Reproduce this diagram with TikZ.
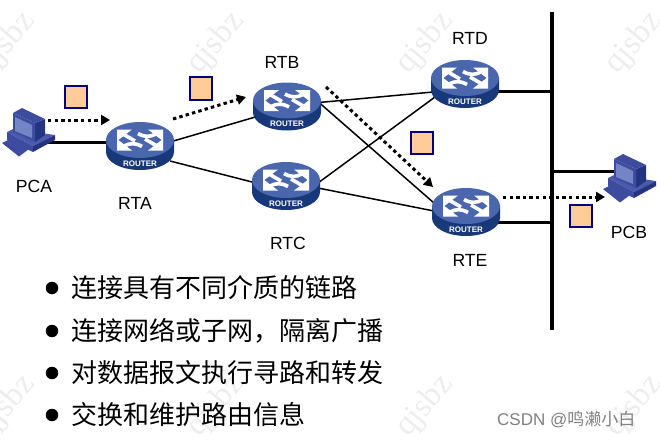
\documentclass[tikz,border=0pt]{standalone}
\usepackage{fontspec}
\setmainfont{Liberation Sans}
\newfontfamily\cjkfont{Noto Sans CJK SC}
\newfontfamily\wmfont{Liberation Serif}
\usetikzlibrary{arrows.meta}
\definecolor{rtop}{HTML}{4A66AC}
\definecolor{rside}{HTML}{17397A}
\definecolor{pcdark}{HTML}{26347F}
\definecolor{pcmid}{HTML}{3D4C9E}
\definecolor{pclight}{HTML}{4A5AAE}
\definecolor{pcscreen}{HTML}{7485C6}
\definecolor{pkt}{HTML}{FFCC99}
\definecolor{pktb}{HTML}{000080}
\tikzset{
  routerbox/.style={minimum width=68pt,minimum height=48pt,inner sep=0pt,outer sep=0pt},
  pcbox/.style={minimum width=50pt,minimum height=48pt,inner sep=0pt,outer sep=0pt},
  rlink/.style={line width=1.5pt,black},
  tlink/.style={line width=3pt,black},
  bus/.style={line width=3.5pt,black},
  flow/.style={line width=3pt,black,dash pattern=on 3.4pt off 3.2pt,-{Triangle[length=9pt,width=10pt]}},
  packet/.style={draw=pktb,fill=pkt,line width=1.8pt,minimum size=22.5pt,inner sep=0pt},
  lbl/.style={font=\fontsize{17.6}{20}\selectfont,inner sep=0pt},
  bulletdot/.style={circle,fill=black,minimum size=12.5pt,inner sep=0pt},
  itemtext/.style={font=\cjkfont\fontsize{26}{30}\selectfont,anchor=west,inner sep=0pt},
  wm/.style={font=\wmfont\fontsize{33}{36}\selectfont,text=black!7,rotate=50,inner sep=0pt},
  csdn/.style={font=\fontsize{17}{20}\selectfont,text=black!50,anchor=west,inner sep=0pt},
  arrw/.style={fill=white,draw=none},
  arrl/.style={draw=white,line width=3.6pt}
}
\newcommand{\routerart}[1]{%
  \begin{scope}[shift={(#1.center)}]
    \fill[rside] (-34,-6) -- (-34,6) arc[start angle=180,end angle=360,x radius=34,y radius=-18] -- (34,-6) -- cycle;
    \fill[rtop] (0,-6) ellipse[x radius=34,y radius=18];
    \begin{scope}[shift={(0,-6)}]
      \foreach \r in {0,180}{
        \begin{scope}[rotate=\r]
          \fill[arrw] (-23,-10.5) -- (-8,-10.5) -- (-23,1) -- cycle;
          \draw[arrl] (-17,-6) -- (-5,1);
          \fill[arrw] (23,-10.5) -- (8,-10.5) -- (23,1) -- cycle;
          \draw[arrl] (16,-6) .. controls (10,-3) and (5,-2.5) .. (-2,-6.5);
        \end{scope}
      }
    \end{scope}
    \node[font=\bfseries\fontsize{8}{8}\selectfont,text=white,inner sep=0pt] (#1-t) at (0,17.5) {ROUTER};
  \end{scope}}
\newcommand{\pcart}[1]{%
  \begin{scope}[shift={(#1.center)}]
    \fill[pclight] (-20,0) -- (-14,-3) -- (28,3) -- (6,14) -- cycle;
    \fill[pcmid] (-20,0) -- (6,14) -- (6,20) -- (-20,8) -- cycle;
    \fill[pcdark] (6,14) -- (28,3) -- (28,8) -- (6,20) -- cycle;
    \fill[pcmid] (-25,11) -- (-17,7) -- (2,17) -- (-8,24.5) -- cycle;
    \fill[pcdark] (8,-9) -- (18,-13) -- (18,3) -- (8,10) -- cycle;
    \fill[pcmid] (-14,-19) -- (-5,-24) -- (18,-13) -- (8,-9) -- cycle;
    \fill[pcmid] (-14,-19) -- (8,-9) -- (8,10) -- (-14,0) -- cycle;
    \fill[pcscreen] (-12,-15) -- (5,-7) -- (5,6) -- (-12,-1) -- cycle;
  \end{scope}}
\begin{document}
\begin{tikzpicture}[x=1pt,y=-1pt]
\useasboundingbox (0,0) rectangle (660,439);
\foreach \wx/\wy [count=\i] in {7/43,216/43,425/43,634/43,7/406,216/406,425/406,634/406}
  \node[wm] (wm\i) at (\wx,\wy) {qjsbz};
\node[routerbox] (rta) at (140,146) {};
\node[routerbox] (rtb) at (287,106.5) {};
\node[routerbox] (rtc) at (286,186) {};
\node[routerbox] (rtd) at (465,84) {};
\node[routerbox] (rte) at (466,212) {};
\node[pcbox] (pca) at (27,132) {};
\node[pcbox] (pcb) at (628,178) {};
\coordinate (bustop) at (552,12);
\coordinate (busbot) at (552,330);
\coordinate (busd) at (552,91);
\coordinate (buse) at (552,222);
\coordinate (busb) at (552,171);
\draw[bus] (bustop) -- (busbot);
\draw[tlink] ([shift={(20,10)}]pca.center) -- ([shift={(-25,-4)}]rta.center);
\draw[tlink] ([shift={(25,7)}]rtd.center) -- (busd);
\draw[tlink] ([shift={(25,10)}]rte.center) -- (buse);
\draw[tlink] (busb) -- ([shift={(-10,-7)}]pcb.center);
\draw[rlink] ([shift={(-4,-4)}]rta.east) -- ([shift={(4,10)}]rtb.west);
\draw[rlink] ([shift={(-4,15)}]rta.east) -- ([shift={(4,-3)}]rtc.west);
\draw[rlink] ([shift={(-2,-4)}]rtb.east) -- ([shift={(2,8)}]rtd.west);
\draw[rlink] ([shift={(-2,-4)}]rtb.east) -- ([shift={(2,-9)}]rte.west);
\draw[rlink] ([shift={(-2,-3)}]rtc.east) -- ([shift={(4,13)}]rtd.west);
\draw[rlink] ([shift={(-2,2)}]rtc.east) -- ([shift={(2,-1)}]rte.west);
\routerart{rta}\routerart{rtb}\routerart{rtc}\routerart{rtd}\routerart{rte}
\pcart{pca}\pcart{pcb}
\draw[flow] ([shift={(21,-12)}]pca.center) -- ([shift={(-30,-26)}]rta.center);
\draw[flow] ([shift={(33,-27)}]rta.center) -- ([shift={(-41,-9.5)}]rtb.center);
\draw[flow] ([shift={(39,-19.5)}]rtb.center) -- ([shift={(-33,-25)}]rte.center);
\draw[flow] ([shift={(37,-15)}]rte.center) -- ([shift={(-23,19)}]pcb.center);
\node[packet] (p1) at (76,97) {};
\node[packet] (p2) at (201,88.5) {};
\node[packet] (p3) at (422,143) {};
\node[packet] (p4) at (581,216) {};
\node[lbl] (lpca) at (34,186) {PCA};
\node[lbl] (lrta) at (135,203) {RTA};
\node[lbl] (lrtb) at (282,62) {RTB};
\node[lbl] (lrtc) at (288,243) {RTC};
\node[lbl] (lrtd) at (470,38) {RTD};
\node[lbl] (lrte) at (470,260) {RTE};
\node[lbl] (lpcb) at (629,232) {PCB};
\foreach \by/\tx [count=\i] in {288/连接具有不同介质的链路,331/连接网络或子网，隔离广播,373/对数据报文执行寻路和转发,415/交换和维护路由信息}{
  \node[bulletdot] (b\i) at (52,\by) {};
  \node[itemtext] (t\i) at (71,\by) {\tx};
}
\node[csdn] (mark) at (497,419) {CSDN @{\cjkfont 鸣濑小白}};
\end{tikzpicture}
\end{document}
